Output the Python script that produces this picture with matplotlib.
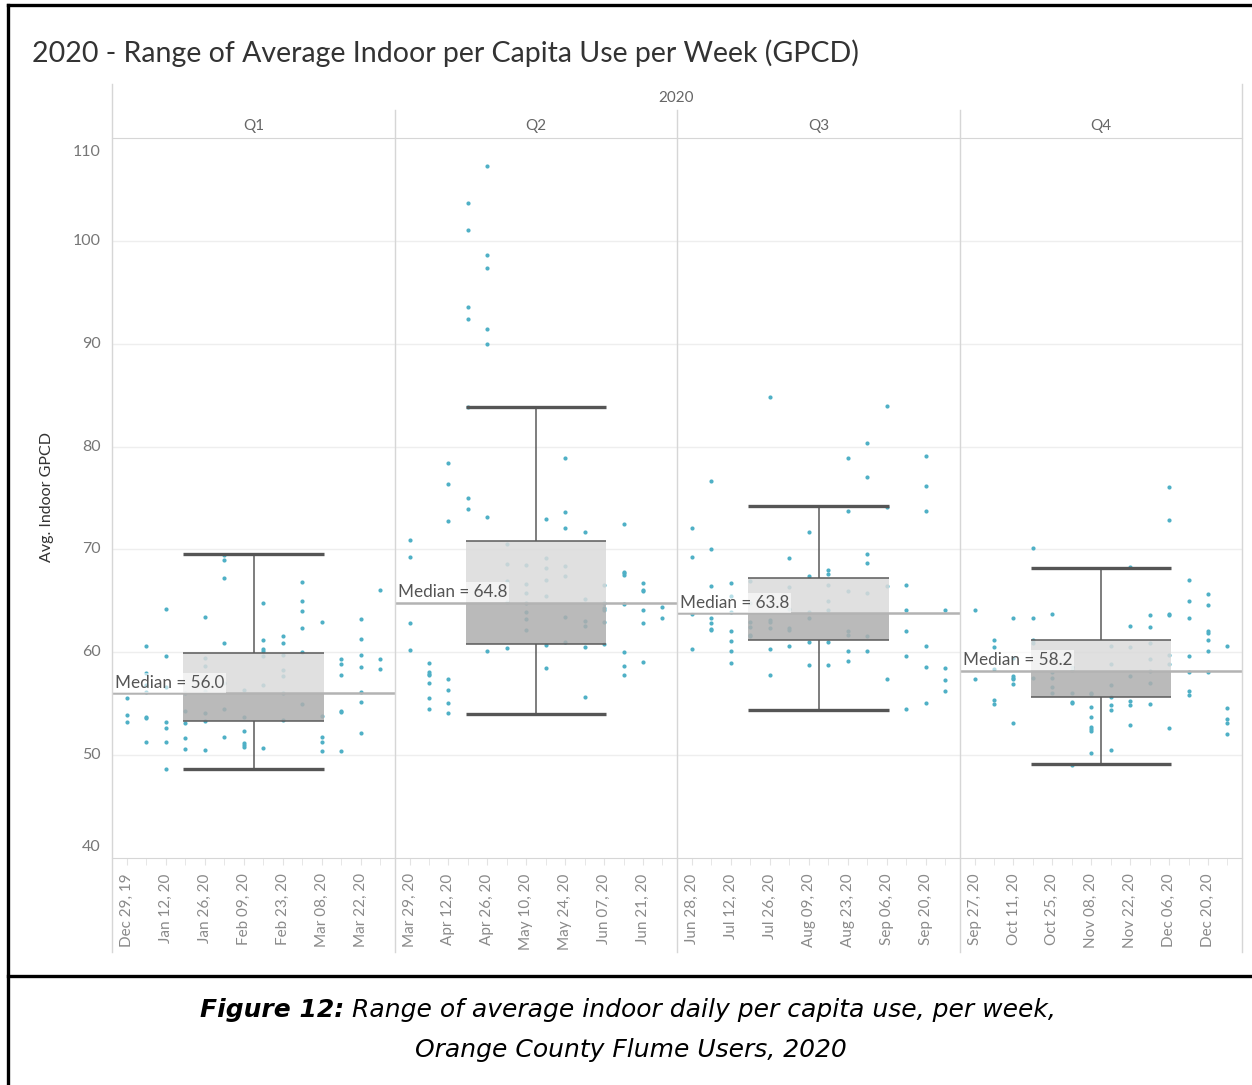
import matplotlib.pyplot as plt
from matplotlib.lines import Line2D

plt.rcParams['font.family'] = ['Lato', 'DejaVu Sans']

# weekly GPCD readings per quarter, one list per week (14 weeks each)
q1_points = [
    [55.6, 53.9, 53.2],
    [60.6, 58.0, 56.8, 56.1, 53.7, 53.6, 51.3],
    [64.2, 59.6, 56.6, 53.2, 52.6, 51.3, 48.7],
    [56.0, 54.3, 53.1, 51.7, 50.6],
    [63.4, 59.4, 58.7, 56.2, 54.1, 53.3, 50.5],
    [69.5, 69.0, 67.2, 60.9, 57.0, 54.5, 51.8],
    [56.3, 53.7, 52.3, 51.2, 51.0, 50.8],
    [64.8, 61.2, 60.3, 60.1, 59.6, 56.8, 50.7],
    [61.6, 60.9, 59.7, 58.3, 57.7, 56.0, 53.4],
    [66.8, 65.0, 64.0, 62.4, 60.0, 55.0],
    [62.9, 53.8, 51.8, 51.3, 50.4],
    [59.3, 58.9, 57.8, 54.3, 54.2, 50.4],
    [63.2, 61.3, 59.7, 58.6, 56.1, 55.2, 52.2],
    [66.1, 59.3, 58.4],
]
q2_points = [
    [70.9, 69.3, 62.8, 60.2],
    [59.0, 58.1, 57.9, 57.8, 57.0, 55.6, 54.5],
    [78.4, 76.4, 72.8, 57.4, 56.3, 55.1, 54.1],
    [103.7, 101.1, 93.6, 92.4, 83.8, 75.0, 73.9],
    [107.3, 98.6, 97.4, 91.4, 90.0, 73.2, 60.1],
    [70.5, 68.6, 66.9, 64.9, 60.4],
    [68.5, 66.6, 65.8, 64.8, 63.9, 63.2, 62.2],
    [73.0, 69.2, 68.2, 67.0, 65.5, 60.7, 58.5],
    [78.9, 73.6, 72.1, 68.4, 67.4, 63.4, 61.0],
    [71.7, 65.2, 63.0, 62.6, 60.5, 55.7],
    [66.5, 64.8, 64.3, 64.1, 62.9, 60.8],
    [72.5, 67.8, 67.7, 67.5, 64.7, 60.0, 58.7, 57.8],
    [66.7, 66.1, 66.0, 64.1, 62.8, 59.1],
    [64.4, 63.3],
]
q3_points = [
    [72.1, 69.3, 63.7, 60.3],
    [76.7, 70.0, 66.4, 63.3, 62.8, 62.3, 62.2],
    [66.7, 65.5, 63.9, 62.1, 61.1, 60.1, 59.0],
    [66.9, 64.8, 62.9, 62.5, 61.7, 61.6],
    [84.8, 63.1, 62.9, 62.4, 60.3, 57.8],
    [69.2, 66.3, 64.2, 62.4, 62.2, 60.6],
    [71.7, 67.4, 63.9, 63.3, 61.0, 58.8],
    [68.0, 67.6, 66.5, 65.0, 64.1, 61.0, 58.8],
    [78.9, 73.7, 66.0, 62.1, 61.7, 60.1, 59.2],
    [80.3, 77.0, 69.6, 68.7, 65.8, 61.6, 60.1],
    [83.9, 74.1, 66.4, 57.4],
    [66.5, 64.1, 62.1, 59.6, 54.5],
    [79.1, 76.2, 73.7, 60.6, 58.6, 55.1],
    [64.1, 58.5, 57.3, 56.2],
]
q4_points = [
    [64.1, 57.4],
    [61.2, 60.5, 58.4, 55.4, 55.0],
    [63.3, 59.4, 57.7, 57.5, 57.4, 56.9, 53.1],
    [70.1, 63.3, 61.2, 60.9, 57.5],
    [63.7, 58.1, 57.5, 56.6, 56.0],
    [58.6, 58.3, 56.0, 55.2, 55.1, 49.0],
    [56.0, 55.9, 54.7, 53.7, 52.7, 52.5, 52.3, 50.2],
    [60.6, 58.9, 56.8, 55.7, 54.9, 54.4, 50.5],
    [68.3, 62.6, 60.5, 57.7, 55.3, 54.9, 52.9],
    [63.6, 62.5, 60.9, 59.3, 58.2, 57.0, 55.0],
    [76.1, 72.9, 63.7, 63.6, 59.7, 58.9, 52.6],
    [67.0, 65.0, 63.3, 59.6, 58.1, 56.2, 55.8],
    [65.7, 64.6, 62.1, 61.9, 61.2, 60.1, 58.1],
    [60.6, 54.6, 53.5, 53.1, 52.1],
]

quarters = ['Q1', 'Q2', 'Q3', 'Q4']
medians = [56.0, 64.8, 63.8, 58.2]
box_low = [53.3, 60.8, 61.2, 55.7]
box_high = [59.9, 70.8, 67.2, 61.2]
whisker_low = [48.7, 54.0, 54.4, 49.1]
whisker_high = [69.6, 83.8, 74.2, 68.2]

y_ticks = [40, 50, 60, 70, 80, 90, 100, 110]

q1_labels = ['Dec 29, 19', 'Jan 12, 20', 'Jan 26, 20', 'Feb 09, 20', 'Feb 23, 20', 'Mar 08, 20', 'Mar 22, 20']
q2_labels = ['Mar 29, 20', 'Apr 12, 20', 'Apr 26, 20', 'May 10, 20', 'May 24, 20', 'Jun 07, 20', 'Jun 21, 20']
q3_labels = ['Jun 28, 20', 'Jul 12, 20', 'Jul 26, 20', 'Aug 09, 20', 'Aug 23, 20', 'Sep 06, 20', 'Sep 20, 20']
q4_labels = ['Sep 27, 20', 'Oct 11, 20', 'Oct 25, 20', 'Nov 08, 20', 'Nov 22, 20', 'Dec 06, 20', 'Dec 20, 20']

all_points = [q1_points, q2_points, q3_points, q4_points]
all_labels = [q1_labels, q2_labels, q3_labels, q4_labels]

W, H = 1252, 1085
fig = plt.figure(figsize=(W / 100, H / 100), dpi=100)


def fx(px):
    return px / W


def fy(py):
    return 1 - py / H


def fig_line(xs, ys, color, lw):
    fig.add_artist(Line2D([fx(x) for x in xs], [fy(y) for y in ys],
                          transform=fig.transFigure, color=color, lw=lw))


panel_edges = [112, 395, 677, 960, 1242]
top, bottom = 138, 858
dot_color = '#4fb0c6'
grid_color = '#d6d6d6'

for i in range(4):
    left, right = panel_edges[i], panel_edges[i + 1]
    ax = fig.add_axes([fx(left), fy(bottom), fx(right) - fx(left), (bottom - top) / H])
    ax.set_xlim(-0.75, 13.75)
    ax.set_ylim(40, 110)

    for wk, vals in enumerate(all_points[i]):
        ax.scatter([wk] * len(vals), vals, s=9, color=dot_color, linewidths=0, zorder=2)

    c = 6.5
    hw = 3.6
    ax.fill_between([c - hw, c + hw], box_low[i], medians[i], color='#aeaeae', alpha=0.85, lw=0, zorder=3)
    ax.fill_between([c - hw, c + hw], medians[i], box_high[i], color='#dbdbdb', alpha=0.85, lw=0, zorder=3)
    ax.hlines([box_low[i], box_high[i]], c - hw, c + hw, color='#5a5a5a', lw=1.1, zorder=4)
    ax.vlines(c, box_high[i], whisker_high[i], color='#5a5a5a', lw=1.1, zorder=4)
    ax.vlines(c, whisker_low[i], box_low[i], color='#5a5a5a', lw=1.1, zorder=4)
    ax.hlines([whisker_low[i], whisker_high[i]], c - hw, c + hw, color='#555555', lw=2.4, zorder=4)

    ax.axhline(medians[i], color='#b3b3b3', lw=1.8, zorder=5)
    ax.text(-0.6, medians[i] + 0.25, 'Median = %.1f' % medians[i], fontsize=12.3, color='#555555',
            ha='left', va='bottom', zorder=6,
            bbox=dict(facecolor='white', alpha=0.6, edgecolor='none', pad=1.5))

    ax.set_yticks(y_ticks[1:-1])
    ax.set_yticklabels([])
    ax.yaxis.grid(True, color='#eeeeee', lw=1)
    ax.set_axisbelow(True)
    ax.tick_params(axis='y', length=0)
    if i == 0:
        # Tableau keeps the end labels inside the pane
        for v in y_ticks:
            dy = -14 if v == 110 else (11 if v == 40 else 0)
            ax.annotate(str(v), xy=(0, v), xycoords=('axes fraction', 'data'),
                        xytext=(-11, dy), textcoords='offset pixels',
                        fontsize=11.5, color='#777777', ha='right', va='center')
        fig.text(fx(47), fy(497), 'Avg. Indoor GPCD', fontsize=11.5, color='#333333',
                 rotation=90, ha='center', va='center')

    ax.set_xticks(range(0, 13, 2))
    ax.set_xticklabels(all_labels[i], rotation=90, fontsize=11, color='#8a8a8a')
    ax.set_xticks(range(14), minor=True)
    ax.tick_params(axis='x', which='both', length=5, color='#e3e3e3', pad=6)

    for side in ['left', 'right']:
        ax.spines[side].set_visible(False)
    ax.spines['top'].set_color(grid_color)
    ax.spines['bottom'].set_color(grid_color)

    fig.text(fx((left + right) / 2), fy(126), quarters[i], fontsize=11, color='#666666',
             ha='center', va='center')

# panel separators and outer frame
for k, xp in enumerate(panel_edges):
    y0 = 84 if k in (0, 4) else 110
    fig_line([xp, xp], [y0, 952], grid_color, 1.0)

fig_line([8, 8], [5, 1085], 'black', 2.4)
fig_line([8, 1252], [5, 5], 'black', 2.4)
fig_line([8, 1252], [976, 976], 'black', 2.4)

fig.text(fx(32), fy(53), '2020 - Range of Average Indoor per Capita Use per Week (GPCD)',
         fontsize=20.5, color='#333333', ha='left', va='center')
fig.text(fx(676), fy(98), '2020', fontsize=11, color='#666666', ha='center', va='center')

# caption
cap_font = ['DejaVu Sans']
t1 = fig.text(fx(200), fy(1010), 'Figure 12:', fontsize=18, fontweight='bold', style='italic',
              family=cap_font, color='black', ha='left', va='center')
fig.add_artist(plt.Annotation(' Range of average indoor daily per capita use, per week,',
                              xy=(1, 0.5), xycoords=t1, fontsize=18, style='italic',
                              family=cap_font, color='black', ha='left', va='center'))
fig.text(fx(631), fy(1050), 'Orange County Flume Users, 2020', fontsize=18, style='italic',
         family=cap_font, color='black', ha='center', va='center')

fig.savefig('out.png', dpi=100)
